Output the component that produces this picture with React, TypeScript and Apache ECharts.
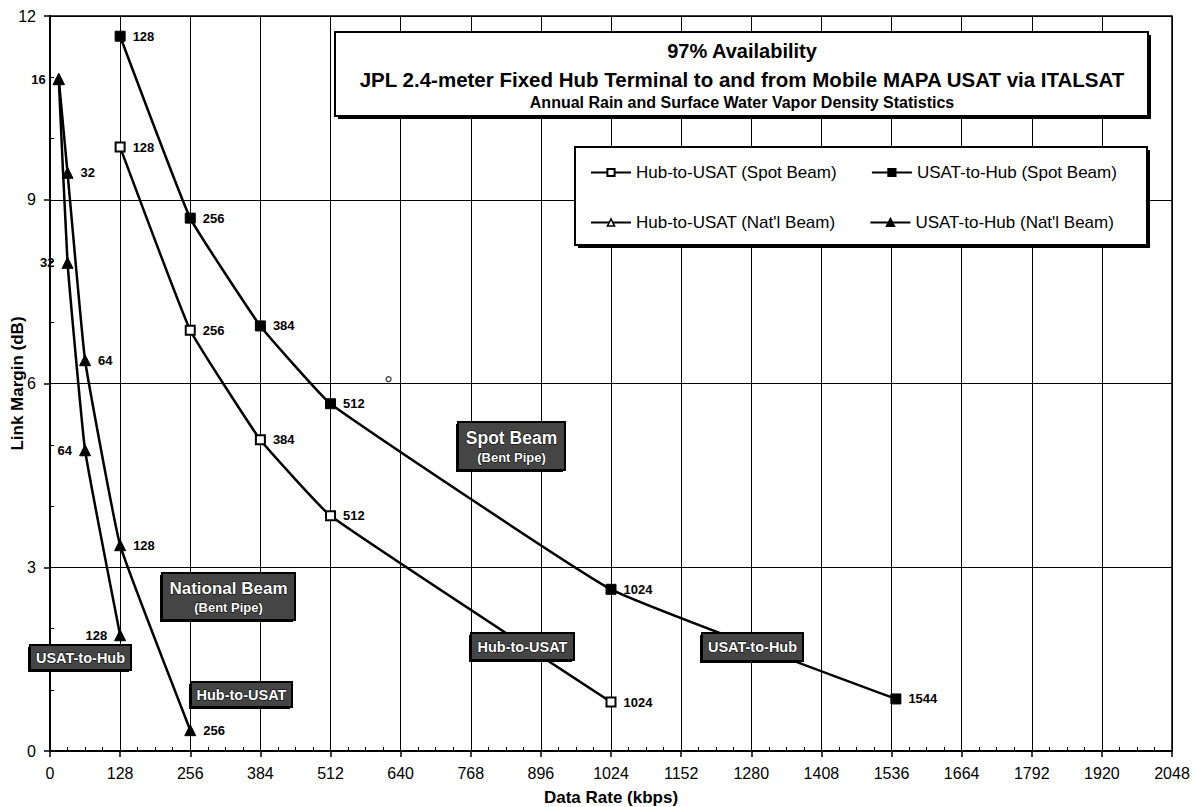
import React, { useEffect, useRef } from "react";
import * as echarts from "echarts";

// ---- data (kbps, dB) ----
const spotHubToUsat: [number, number][] = [
  [128, 9.86], [256, 6.87], [384, 5.08], [512, 3.84], [1024, 0.8],
];
const spotUsatToHub: [number, number][] = [
  [128, 11.67], [256, 8.7], [384, 6.94], [512, 5.67], [1024, 2.64], [1544, 0.85],
];
const natlHubToUsat: [number, number][] = [
  [16, 10.97], [32, 9.44], [64, 6.38], [128, 3.36], [256, 0.34],
];
const natlUsatToHub: [number, number][] = [
  [16, 10.97], [32, 7.97], [64, 4.91], [128, 1.89],
];
const strayPoint: [number, number][] = [[618, 6.07]];

const seriesNames = [
  "Hub-to-USAT (Spot Beam)",
  "USAT-to-Hub (Spot Beam)",
  "Hub-to-USAT (Nat'l Beam)",
  "USAT-to-Hub (Nat'l Beam)",
];
const titleLines = [
  "97% Availability",
  "JPL 2.4-meter Fixed Hub Terminal to and from Mobile MAPA USAT via ITALSAT",
  "Annual Rain and Surface Water Vapor Density Statistics",
];
const xAxisTitle = "Data Rate (kbps)";
const yAxisTitle = "Link Margin (dB)";

const FONT = "'Liberation Sans', Arial, sans-serif";

function darkBox(x: number, y: number, w: number, h: number, lines: { t: string; size: number; dy: number }[]) {
  return {
    type: "group",
    z: 100,
    children: [
      { type: "rect", shape: { x: x - 2, y: y + 2, width: w, height: h }, style: { fill: "#000" }, z: 100 },
      { type: "rect", shape: { x, y, width: w, height: h }, style: { fill: "#454545", stroke: "#000", lineWidth: 2 }, z: 101 },
      ...lines.map((l) => ({
        type: "text",
        z: 102,
        x: x + w / 2,
        y: y + l.dy,
        style: {
          text: l.t,
          fill: "#fff",
          font: `bold ${l.size}px ${FONT}`,
          textAlign: "center",
          textVerticalAlign: "middle",
          stroke: "#000",
          lineWidth: 1,
        },
      })),
    ],
  };
}

export default function App() {
  const ref = useRef<HTMLDivElement>(null);
  useEffect(() => {
    if (!ref.current) return;
    const chart = echarts.init(ref.current, undefined, { renderer: "svg" });

    const labelRight = {
      show: true,
      position: "right",
      distance: 7,
      formatter: (p: any) => String(p.value[0]),
      color: "#000",
      fontFamily: FONT,
      fontWeight: "bold",
      fontSize: 13,
    };
    const labelLeft = { ...labelRight, position: "left" };

    const lineCommon = {
      type: "line",
      smooth: 0.1,
      lineStyle: { color: "#000", width: 2.5 },
      xAxisIndex: 0,
      yAxisIndex: 0,
      z: 5,
    };

    const legendText = { fontFamily: FONT, fontSize: 17, color: "#000", width: 215 };

    const option: any = {
      animation: false,
      backgroundColor: "#fff",
      textStyle: { fontFamily: FONT },
      grid: {
        left: 50, right: 25, top: 16, bottom: 56,
        containLabel: false, outerBoundsMode: "none",
        show: true, borderColor: "#000", borderWidth: 1.5,
      },
      xAxis: [
        {
          type: "value",
          position: "bottom",
          min: 0,
          max: 2048,
          interval: 128,
          name: xAxisTitle,
          nameLocation: "middle",
          nameGap: 38,
          nameMoveOverlap: false,
          nameTextStyle: { fontFamily: FONT, fontWeight: "bold", fontSize: 17, color: "#000" },
          axisLine: { lineStyle: { color: "#000", width: 2 } },
          axisTick: { show: true, length: 6, lineStyle: { color: "#000", width: 1.5 } },
          axisLabel: { color: "#000", fontSize: 16, fontFamily: FONT, margin: 14, formatter: (v: number) => String(v) },
          splitLine: { show: true, lineStyle: { color: "#000", width: 1 } },
        },
        {
          type: "value",
          position: "bottom",
          min: 0,
          max: 2048,
          interval: 128,
          axisLine: { show: false },
          axisTick: { show: false, inside: true },
          axisLabel: { show: false },
          splitLine: { show: false },
          minorTick: { show: true, splitNumber: 4, length: 4, lineStyle: { color: "#000", width: 1 } },
        },
      ],
      yAxis: [
        {
          type: "value",
          position: "left",
          min: 0,
          max: 12,
          interval: 3,
          name: yAxisTitle,
          nameLocation: "middle",
          nameGap: 24,
          nameMoveOverlap: false,
          nameTextStyle: { fontFamily: FONT, fontWeight: "bold", fontSize: 17, color: "#000" },
          axisLine: { show: true, lineStyle: { color: "#000", width: 2 } },
          axisTick: { show: true, length: 6, lineStyle: { color: "#000", width: 1.5 } },
          axisLabel: { color: "#000", fontSize: 16, fontFamily: FONT, margin: 14 },
          splitLine: { show: true, lineStyle: { color: "#000", width: 1 } },
        },
        {
          type: "value",
          position: "left",
          min: 0,
          max: 12,
          interval: 3,
          axisLine: { show: false },
          axisTick: { show: false, inside: true },
          axisLabel: { show: false },
          splitLine: { show: false },
          minorTick: { show: true, splitNumber: 3, length: 4, lineStyle: { color: "#000", width: 1 } },
        },
      ],
      legend: [
        {
          z: 200,
          left: 590,
          top: 164,
          padding: 0,
          itemWidth: 40,
          itemHeight: 9,
          itemGap: 34,
          textStyle: legendText,
          data: [{ name: seriesNames[0] }, { name: seriesNames[1] }],
        },
        {
          z: 200,
          left: 590,
          top: 214,
          padding: 0,
          itemWidth: 40,
          itemHeight: 9,
          itemGap: 34,
          textStyle: legendText,
          data: [
            { name: seriesNames[2], itemStyle: { color: "#fff", borderColor: "#000", borderWidth: 1.5 } },
            { name: seriesNames[3] },
          ],
        },
      ],
      series: [
        {
          ...lineCommon,
          name: seriesNames[0],
          data: spotHubToUsat,
          symbol: "rect",
          symbolSize: 9,
          itemStyle: { color: "#fff", borderColor: "#000", borderWidth: 2 },
          label: labelRight,
        },
        {
          ...lineCommon,
          name: seriesNames[1],
          data: spotUsatToHub,
          symbol: "rect",
          symbolSize: 10,
          itemStyle: { color: "#000", borderColor: "#000", borderWidth: 1 },
          label: labelRight,
        },
        {
          ...lineCommon,
          name: seriesNames[2],
          data: natlHubToUsat.map((p, i) => (i === 0 ? { value: p, label: { show: false } } : { value: p })),
          symbol: "triangle",
          symbolSize: 11,
          itemStyle: { color: "#000", borderColor: "#000", borderWidth: 1 },
          label: labelRight,
        },
        {
          ...lineCommon,
          name: seriesNames[3],
          data: natlUsatToHub,
          symbol: "triangle",
          symbolSize: 11,
          itemStyle: { color: "#000", borderColor: "#000", borderWidth: 1 },
          label: labelLeft,
        },
        {
          type: "scatter",
          name: "stray",
          data: strayPoint,
          symbol: "circle",
          symbolSize: 5,
          itemStyle: { color: "#fff", borderColor: "#000", borderWidth: 1.2 },
          z: 5,
        },
      ],
      graphic: [
        // title box
        { type: "rect", z: 100, shape: { x: 338, y: 35, width: 813, height: 84 }, style: { fill: "#000" } },
        { type: "rect", z: 101, shape: { x: 335, y: 32, width: 813, height: 84 }, style: { fill: "#fff", stroke: "#000", lineWidth: 2 } },
        { type: "text", z: 102, x: 742, y: 51, style: { text: titleLines[0], font: `bold 20px ${FONT}`, fill: "#000", textAlign: "center", textVerticalAlign: "middle" } },
        { type: "text", z: 102, x: 742, y: 79, style: { text: titleLines[1], font: `bold 20.5px ${FONT}`, fill: "#000", textAlign: "center", textVerticalAlign: "middle" } },
        { type: "text", z: 102, x: 742, y: 102, style: { text: titleLines[2], font: `bold 16px ${FONT}`, fill: "#000", textAlign: "center", textVerticalAlign: "middle" } },
        // legend box
        { type: "rect", z: 100, shape: { x: 578, y: 150, width: 572, height: 98 }, style: { fill: "#000" } },
        { type: "rect", z: 101, shape: { x: 575, y: 147, width: 572, height: 98 }, style: { fill: "#fff", stroke: "#000", lineWidth: 2 } },
        // annotation boxes
        darkBox(458, 422, 107, 48, [
          { t: "Spot Beam", size: 17.5, dy: 16 },
          { t: "(Bent Pipe)", size: 13, dy: 35 },
        ]),
        darkBox(162, 573, 133, 47, [
          { t: "National Beam", size: 17, dy: 15 },
          { t: "(Bent Pipe)", size: 13, dy: 34 },
        ]),
        darkBox(30, 645, 101, 25, [{ t: "USAT-to-Hub", size: 14.5, dy: 12.5 }]),
        darkBox(191, 682, 101, 25, [{ t: "Hub-to-USAT", size: 14.5, dy: 12.5 }]),
        darkBox(471, 633, 103, 27, [{ t: "Hub-to-USAT", size: 14.5, dy: 13.5 }]),
        darkBox(702, 633, 101, 28, [{ t: "USAT-to-Hub", size: 14.5, dy: 14 }]),
      ],
    };

    chart.setOption(option);
    return () => chart.dispose();
  }, []);

  return (
    <div
      ref={ref}
      style={{ position: "absolute", left: 0, top: 0, width: 1197, height: 807, background: "#fff" }}
    />
  );
}
